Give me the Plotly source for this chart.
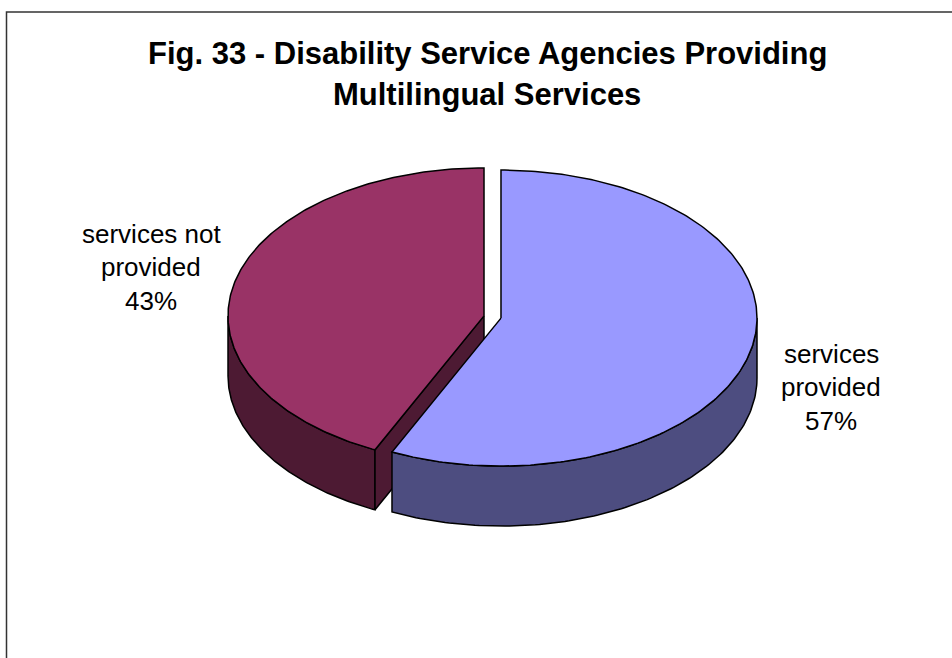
import numpy as np
import plotly.graph_objects as go

# Data
categories = ["services provided", "services not provided"]
values = [57, 43]
label_lines = [["services", "provided"], ["services not", "provided"]]
top_colors = ["#9999FF", "#993366"]
side_colors = ["#4D4D80", "#4D1A33"]

title_lines = ["Fig. 33 - Disability Service Agencies Providing", "Multilingual Services"]

# Canvas in pixel units (y grows downward)
W, H = 952, 658
CX, CY = 492.5, 317.0      # pie centre (top face)
RX, RY = 256.0, 148.0      # ellipse radii of the tilted disc
DEPTH = 60.0               # thickness of the disc
EXPLODE = 8.7              # separation of each slice from the centre

fig = go.Figure()


def rim(theta_deg, cx, cy, dz=0.0):
    t = np.radians(theta_deg)
    return cx + RX * np.sin(t), cy - RY * np.cos(t) + dz


def poly(xs, ys, color):
    fig.add_trace(go.Scatter(
        x=list(xs) + [xs[0]], y=list(ys) + [ys[0]],
        mode="lines", fill="toself", fillcolor=color,
        line=dict(color="black", width=1.5),
        hoverinfo="skip", showlegend=False,
    ))


total = float(sum(values))
angles = np.cumsum([0] + [v / total * 360.0 for v in values])
slices = []
for i, v in enumerate(values):
    a0, a1 = angles[i], angles[i + 1]
    mid = np.radians((a0 + a1) / 2)
    cx = CX + EXPLODE * np.sin(mid)
    cy = CY - EXPLODE * np.cos(mid) * RY / RX
    slices.append((i, a0, a1, cx, cy))

# Painter's order: back slice (maroon) first, then front slice (blue)
for i, a0, a1, cx, cy in sorted(slices, key=lambda s: -s[0]):
    # outer wall: only the front half (90..270 deg) is visible
    w0, w1 = max(a0, 90.0), min(a1, 270.0)
    if w1 > w0:
        th = np.linspace(w0, w1, 120)
        xt, yt = rim(th, cx, cy)
        xb, yb = rim(th[::-1], cx, cy, DEPTH)
        poly(np.concatenate([xt, xb]), np.concatenate([yt, yb]), side_colors[i])
    # cut face along the starting edge of a slice that begins on the left-front
    if 180.0 < a0 < 270.0:
        ex, ey = rim(a0, cx, cy)
        poly([cx, ex, ex, cx], [cy, ey, ey + DEPTH, cy + DEPTH], side_colors[i])
    # top face
    th = np.linspace(a0, a1, 240)
    xt, yt = rim(th, cx, cy)
    poly(np.concatenate([[cx], xt]), np.concatenate([[cy], yt]), top_colors[i])

# Slice labels
label_pos = [(831, 353.5), (151, 233.5)]
LINE = 33.5
for i, v in enumerate(values):
    lx, ly = label_pos[i]
    lines = label_lines[i] + [f"{round(v / total * 100)}%"]
    for k, txt in enumerate(lines):
        fig.add_annotation(
            x=lx, y=ly + k * LINE, text=txt, showarrow=False,
            xanchor="center", yanchor="middle",
            font=dict(family="Liberation Sans, Arial, sans-serif", size=26, color="black"),
        )

# Title
for k, txt in enumerate(title_lines):
    fig.add_annotation(
        x=487, y=53.5 + k * 41, text=f"<b>{txt}</b>", showarrow=False,
        xanchor="center", yanchor="middle",
        font=dict(family="Liberation Sans, Arial, sans-serif", size=31, color="black"),
    )

# Chart area frame
fig.add_shape(type="rect", x0=6.5, y0=12, x1=W + 10, y1=H + 10,
              line=dict(color="#333333", width=1.5), layer="below")

fig.update_layout(
    width=W, height=H,
    margin=dict(l=0, r=0, t=0, b=0),
    paper_bgcolor="white", plot_bgcolor="white",
    xaxis=dict(range=[0, W], visible=False, fixedrange=True),
    yaxis=dict(range=[H, 0], visible=False, fixedrange=True),
    showlegend=False,
)

fig.write_html("out.html")
